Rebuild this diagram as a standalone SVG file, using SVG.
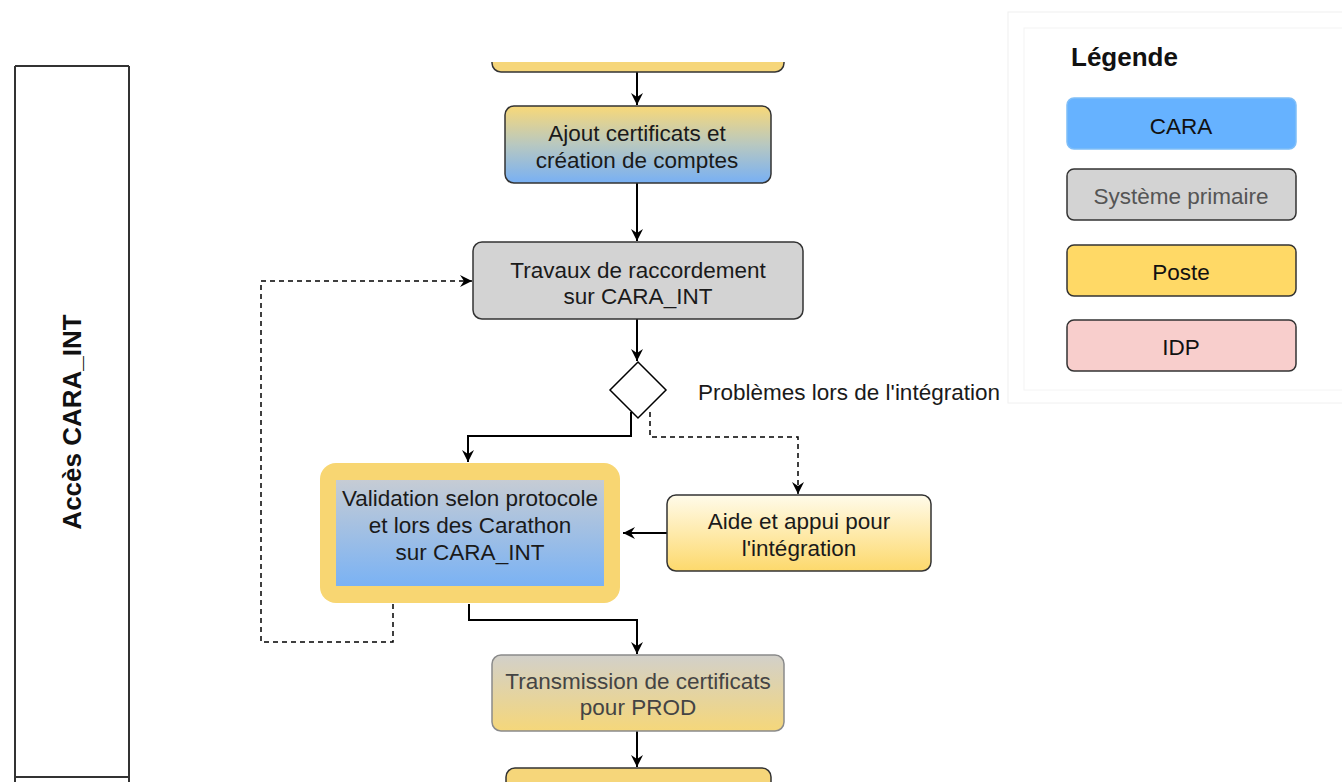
<svg xmlns="http://www.w3.org/2000/svg" width="1342" height="782" viewBox="0 0 1342 782">
  <defs>
    <linearGradient id="gYellowBlue" x1="0" y1="0" x2="0" y2="1">
      <stop offset="0" stop-color="#F8D878"/>
      <stop offset="0.5" stop-color="#B8C8C0"/>
      <stop offset="1" stop-color="#78B0F4"/>
    </linearGradient>
    <linearGradient id="gGrayBlue" x1="0" y1="0" x2="0" y2="1">
      <stop offset="0" stop-color="#C6CCD4"/>
      <stop offset="1" stop-color="#7AB2F4"/>
    </linearGradient>
    <linearGradient id="gLightYellow" x1="0" y1="0" x2="0" y2="1">
      <stop offset="0" stop-color="#FFFBEA"/>
      <stop offset="1" stop-color="#FDD96C"/>
    </linearGradient>
    <linearGradient id="gGrayYellow" x1="0" y1="0" x2="0" y2="1">
      <stop offset="0" stop-color="#D2D0CA"/>
      <stop offset="1" stop-color="#F5D77A"/>
    </linearGradient>
    <clipPath id="clipTop">
      <rect x="0" y="62" width="1342" height="720"/>
    </clipPath>
    <marker id="arrow" viewBox="0 0 14 14" refX="13" refY="7" markerWidth="14" markerHeight="14" markerUnits="userSpaceOnUse" orient="auto">
      <path d="M1,1 L13,7 L1,13 L5,7 Z" fill="#000"/>
    </marker>
  </defs>
  <style>
    .lbl { font-family: "Liberation Sans", Arial, sans-serif; font-size: 22.5px; fill: #1a1a1a; text-anchor: middle; }
    .node { stroke: #333; stroke-width: 1.5; }
    .edge { fill: none; stroke: #000; stroke-width: 2; }
    .dash { fill: none; stroke: #000; stroke-width: 1.5; stroke-dasharray: 5 4; }
    .lane { stroke: #333; stroke-width: 2; fill: none; }
    .leg { font-family: "Liberation Sans", Arial, sans-serif; font-size: 22.5px; text-anchor: middle; fill: #111; }
  </style>

  <rect width="1342" height="782" fill="#fff"/>

  <!-- swimlane -->
  <g id="lane">
    <path class="lane" d="M15,66 L129,66 M15,66 L15,782 M129,66 L129,782 M15,777 L129,777"/>
    <text transform="translate(81,422) rotate(-90)" style="font-family:'Liberation Sans',Arial,sans-serif;font-size:26px;font-weight:bold;text-anchor:middle;fill:#111">Accès CARA_INT</text>
  </g>

  <!-- connectors -->
  <g id="connectors">
    <path class="edge" d="M637,72 L637,105" marker-end="url(#arrow)"/>
    <path class="edge" d="M637,183 L637,241" marker-end="url(#arrow)"/>
    <path class="edge" d="M637,319 L637,361" marker-end="url(#arrow)"/>
    <path class="edge" d="M631,412 L631,436 L468,436 L468,462" marker-end="url(#arrow)"/>
    <path class="dash" d="M650,412 L650,437 L798,437 L798,494" marker-end="url(#arrow)"/>
    <path class="edge" d="M667,533 L623,533" marker-end="url(#arrow)"/>
    <path class="dash" d="M393,604 L393,642 L261,642 L261,281 L472,281" marker-end="url(#arrow)"/>
    <path class="edge" d="M469,604 L469,620 L637,620 L637,654" marker-end="url(#arrow)"/>
    <path class="edge" d="M637,731 L637,767" marker-end="url(#arrow)"/>
  </g>

  <!-- nodes -->
  <g id="node-top" clip-path="url(#clipTop)">
    <rect class="node" x="492" y="30" width="292" height="42" rx="9" fill="#F6D67A"/>
  </g>

  <g id="node-ajout">
    <rect class="node" x="505" y="106" width="266" height="77" rx="9" fill="url(#gYellowBlue)"/>
    <text class="lbl" x="637" y="141">Ajout certificats et</text>
    <text class="lbl" x="637" y="168">création de comptes</text>
  </g>

  <g id="node-travaux">
    <rect class="node" x="473" y="242" width="330" height="77" rx="9" fill="#D3D3D3"/>
    <text class="lbl" x="638" y="278">Travaux de raccordement</text>
    <text class="lbl" x="638" y="304">sur CARA_INT</text>
  </g>

  <g id="node-decision">
    <path d="M638,362 L666,390 L638,418 L610,390 Z" fill="#fff" stroke="#000" stroke-width="1.5"/>
    <text x="698" y="400" style="font-family:'Liberation Sans',Arial,sans-serif;font-size:22.5px;fill:#1a1a1a">Problèmes lors de l'intégration</text>
  </g>

  <g id="node-validation">
    <rect x="320" y="463" width="300" height="140" rx="16" fill="#F8D672"/>
    <rect x="336" y="480" width="268" height="106" fill="url(#gGrayBlue)"/>
    <text class="lbl" x="470" y="506">Validation selon protocole</text>
    <text class="lbl" x="470" y="533">et lors des Carathon</text>
    <text class="lbl" x="470" y="560">sur CARA_INT</text>
  </g>

  <g id="node-aide">
    <rect class="node" x="667" y="495" width="264" height="76" rx="9" fill="url(#gLightYellow)"/>
    <text class="lbl" x="799" y="529">Aide et appui pour</text>
    <text class="lbl" x="799" y="556">l'intégration</text>
  </g>

  <g id="node-transmission">
    <rect x="492" y="655" width="292" height="76" rx="9" fill="url(#gGrayYellow)" stroke="#8a8a8a" stroke-width="1.5"/>
    <text class="lbl" x="638" y="689" style="fill:#444">Transmission de certificats</text>
    <text class="lbl" x="638" y="715" style="fill:#444">pour PROD</text>
  </g>

  <g id="node-bottom">
    <rect class="node" x="506" y="768" width="265" height="40" rx="9" fill="#F6D67A"/>
  </g>

  <!-- legend -->
  <g id="legend">
    <rect x="1008" y="12" width="340" height="391" fill="#fff" stroke="#f0f0f0" stroke-width="1"/>
    <rect x="1024" y="28" width="330" height="362" fill="#fff" stroke="#f4f4f4" stroke-width="1"/>
    <text x="1071" y="66" style="font-family:'Liberation Sans',Arial,sans-serif;font-size:26px;font-weight:bold;fill:#111">Légende</text>
    <g id="legend-cara">
      <rect x="1067" y="98" width="229" height="51" rx="7" fill="#66B2FF" stroke="#7fbef8" stroke-width="1.5"/>
      <text class="leg" x="1181" y="134">CARA</text>
    </g>
    <g id="legend-systeme">
      <rect x="1067" y="169" width="229" height="51" rx="7" fill="#D3D3D3" stroke="#333" stroke-width="1.5"/>
      <text class="leg" x="1181" y="204" style="fill:#555">Système primaire</text>
    </g>
    <g id="legend-poste">
      <rect x="1067" y="245" width="229" height="51" rx="7" fill="#FFD966" stroke="#333" stroke-width="1.5"/>
      <text class="leg" x="1181" y="280">Poste</text>
    </g>
    <g id="legend-idp">
      <rect x="1067" y="320" width="229" height="51" rx="7" fill="#F8CECC" stroke="#333" stroke-width="1.5"/>
      <text class="leg" x="1181" y="355">IDP</text>
    </g>
  </g>
</svg>
